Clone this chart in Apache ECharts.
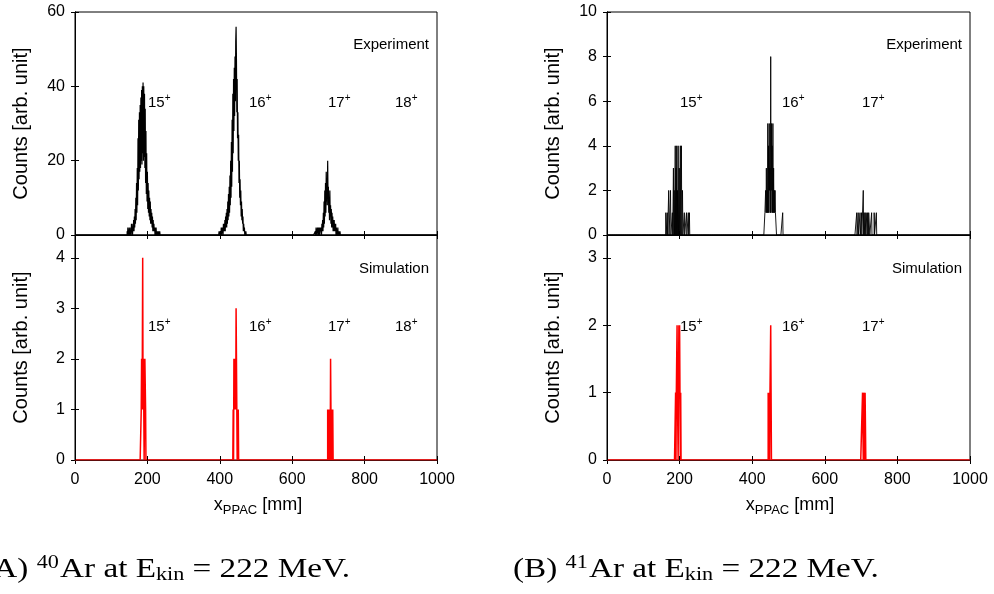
<!DOCTYPE html>
<html><head><meta charset="utf-8">
<script src="https://cdn.jsdelivr.net/npm/echarts@6/dist/echarts.min.js"></script>
<style>html,body{margin:0;padding:0;background:#fff}#c{width:994px;height:594px}</style>
</head><body><div id="c"></div>
<script>
// ---------- data ----------
const xTickValues = [0, 200, 400, 600, 800, 1000];
const chargeLabelsA = ['15', '16', '17', '18'];
const chargeLabelsB = ['15', '16', '17'];
const panelTitles = ['Experiment', 'Simulation'];
const yAxisTitle = 'Counts [arb. unit]';

// bin width [mm]
const binWidth = 1;

// (A) 40Ar experiment (counts per 1 mm bin, starting at 'start')
const expA15 = {start: 144, counts: [
  1,0,2,0,1,0,2,0,1,0, 2,0,3,1,2,0,3,1,4,1,
  5,2,7,3,10,4,14,6,18,8, 26,12,31,15,33,17,35,18,37,20,
  39,19,40,22,41,20,40,21,38,18, 34,14,28,11,22,9,17,7,14,6,
  12,5,10,4,9,3,7,3,6,2, 5,1,4,1,3,1,2,0,2,0,
  2,0,1,0,1,0,1,0,1,0,1,0]};
const expA16 = {start: 398, counts: [
  1,0,1,0,1,0,2,0,2,1, 2,0,3,1,3,1,4,1,5,2,
  6,2,7,3,9,4,11,5,13,6, 16,8,20,10,25,13,31,17,38,22,
  42,28,45,32,48,36,52,56,47,33, 42,26,33,20,27,14,20,10,15,8,
  12,5,9,4,7,3,5,1,3,1, 2,0,1,0,1]};
const expA17 = {start: 664, counts: [
  1,0,2,1,1,0,2,1,2,0, 1,2,0,2,1,2,1,0,3,1,
  4,1,6,2,9,3,12,5,14,6, 17,9,15,8,20,10,13,6,10,4,
  12,5,8,3,7,2,6,2,5,1, 4,1,4,1,3,1,3,0,2,0,
  1,0,2,0,1,0,1,0,1]};
// (A) 40Ar simulation
const simA15 = {start: 183, counts: [1,2,1,2,4,1,2,1,0,0,2,2,1]};
const simA16 = {start: 437, counts: [1,0,2,1,2,1,2,1,3,2,1,0,1,0,1]};
const simA17 = {start: 698, counts: [1,0,1,1,0,1,1,0,2,1,0,1,1,0,1]};
// (B) 41Ar experiment: [position mm, counts]
const expB15 = [[162,1],[166,1],[170,2],[175,2],[180,1],[183,3],[185,2],[188,4],[190,3],[192,4],[194,2],[196,4],[199,3],[202,4],[205,4],[208,2],[213,1],[219,1],[224,1],[227,1]];
const expB16 = {start: 435, counts: [1,1,2,1,3,1,2,1,5,1,4,1,5,2,3,1,8,1,5,2,4,1,5,1,3,1,2,1,2,1,1,1,0,0,0,0,0,0,0,0,0,0,0,0,0,0,0,0,0,1]};
const expB17 = [[688,1],[692,1],[697,1],[701,1],[706,2],[708,1],[709,1],[711,1],[712,1],[714,1],[715,1],[716,1],[718,1],[719,1],[721,1],[722,1],[723,1],[729,1],[736,1],[742,1]];
// (B) 41Ar simulation
const simB15 = {start: 189, counts: [1,0,1,1,2,1,1,0,1,2,1,2,1,0,1]};
const simB16 = {start: 444, counts: [1,0,1,1,0,1,1,2,1]};
const simB17 = {start: 704, counts: [1,1,0,1,1,1,0,1,1]};

// ---------- build histogram tables ----------
function buildHist(peaks, pairs, w) {
  const m = new Map();
  peaks.forEach(p => p.counts.forEach((c, i) => m.set(p.start + i * w, c)));
  pairs.forEach(pr => m.set(pr[0], pr[1]));
  const out = [];
  for (let x = 0; x <= 1000; x += w) out.push([x, m.get(x) || 0]);
  return out;
}
const histExpA = buildHist([expA15, expA16, expA17], [], binWidth);
const histSimA = buildHist([simA15, simA16, simA17], [], binWidth);
const histExpB = buildHist([expB16], expB15.concat(expB17), binWidth);
const histSimB = buildHist([simB15, simB16, simB17], [], binWidth);

// ---------- layout ----------
const FONT = 'Liberation Sans, Arial, sans-serif';
const SERIF = 'Liberation Serif, Times New Roman, serif';
const grids = [
  {left: 75, top: 12, width: 362, height: 223},
  {left: 75, top: 235, width: 362, height: 225},
  {left: 607, top: 12, width: 363, height: 223},
  {left: 607, top: 235, width: 363, height: 225}
];
const yCfg = [
  {max: 60, interval: 20},
  {max: 4.45, interval: 1},
  {max: 10, interval: 2},
  {max: 3.34, interval: 1}
];

const xAxes = [], yAxes = [];
grids.forEach((g, i) => {
  const isBottom = (i % 2 === 1);
  xAxes.push({
    type: 'value', gridIndex: i, min: 0, max: 1000, interval: 200, position: 'bottom',
    z: isBottom ? 5 : 0,
    axisLine: {show: true, lineStyle: {color: isBottom ? '#5e0c0c' : '#000', width: 1}},
    axisTick: {show: true, inside: true, length: 4, lineStyle: {color: '#000'}},
    axisLabel: {show: isBottom, fontFamily: FONT, fontSize: 16, color: '#000', margin: 12,
      formatter: v => xTickValues.indexOf(v) >= 0 ? String(v) : ''},
    splitLine: {show: false}
  });
});
grids.forEach((g, i) => {
  xAxes.push({
    type: 'value', gridIndex: i, min: 0, max: 1000, interval: 200, position: 'top',
    axisLine: {show: false},
    axisTick: {show: true, inside: true, length: 4, lineStyle: {color: '#000'}},
    axisLabel: {show: false}, splitLine: {show: false}
  });
});
grids.forEach((g, i) => {
  yAxes.push({
    type: 'value', gridIndex: i, min: 0, max: yCfg[i].max, interval: yCfg[i].interval, position: 'left',
    name: yAxisTitle, nameLocation: 'middle', nameRotate: 90, nameGap: 44,
    nameTextStyle: {fontFamily: FONT, fontSize: 20, color: '#000'},
    axisLine: {show: true, lineStyle: {color: '#000'}},
    axisTick: {show: true, inside: true, length: 4, lineStyle: {color: '#000'}},
    axisLabel: {fontFamily: FONT, fontSize: 16, color: '#000', margin: 10, showMaxLabel: (i % 2 === 0)},
    splitLine: {show: false}
  });
});
grids.forEach((g, i) => {
  yAxes.push({
    type: 'value', gridIndex: i, min: 0, max: yCfg[i].max, interval: yCfg[i].interval, position: 'right',
    axisLine: {show: true, lineStyle: {color: '#000'}},
    axisTick: {show: true, inside: true, length: 4, lineStyle: {color: '#000'}},
    axisLabel: {show: false}, splitLine: {show: false}
  });
});

function histSeries(data, idx, color, width) {
  return {
    type: 'line', xAxisIndex: idx, yAxisIndex: idx, data: data, step: 'end',
    showSymbol: false, symbol: 'none', silent: true, z: 2,
    lineStyle: {color: color, width: width}
  };
}

// ---------- annotations ----------
const graphics = [];
function txt(x, y, text, opts, extra) {
  graphics.push(Object.assign({type: 'text', x: x, y: y, silent: true,
    style: Object.assign({text: text, fontFamily: FONT, fontSize: 15, fill: '#000',
      textAlign: 'left', textVerticalAlign: 'middle'}, opts || {})}, extra || {}));
}
const chargeRich = {n: {fontFamily: FONT, fontSize: 15}, s: {fontFamily: FONT, fontSize: 10, padding: [0, 0, 10, 0]}};
function charge(x, y, label) {
  txt(x, y, '{n|' + label + '}{s|+}', {rich: chargeRich});
}
// panel A
txt(429, 45, panelTitles[0], {textAlign: 'right'});
txt(429, 269, panelTitles[1], {textAlign: 'right'});
[148, 249, 328, 395].forEach((x, k) => { charge(x, 103, chargeLabelsA[k]); charge(x, 327, chargeLabelsA[k]); });
// panel B
txt(962, 45, panelTitles[0], {textAlign: 'right'});
txt(962, 269, panelTitles[1], {textAlign: 'right'});
[680, 782, 862].forEach((x, k) => { charge(x, 103, chargeLabelsB[k]); charge(x, 327, chargeLabelsB[k]); });

// x-axis titles
const xTitleRich = {n: {fontFamily: FONT, fontSize: 18}, s: {fontFamily: FONT, fontSize: 13, padding: [10, 0, 0, 0]}};
txt(258, 505, '{n|x}{s|PPAC}{n| [mm]}', {rich: xTitleRich, textAlign: 'center'});
txt(790, 505, '{n|x}{s|PPAC}{n| [mm]}', {rich: xTitleRich, textAlign: 'center'});

// captions
const capRich = {
  n: {fontFamily: SERIF, fontSize: 27},
  sup: {fontFamily: SERIF, fontSize: 18, padding: [0, 1, 13, 0]},
  sub: {fontFamily: SERIF, fontSize: 18, padding: [11, 0, 0, 0]}
};
txt(350, 570, '{n|(A) }{sup|40}{n|Ar at E}{sub|kin}{n| = 222 MeV.}', {rich: capRich, textAlign: 'right'}, {scaleX: 1.23});
txt(513, 570, '{n|(B) }{sup|41}{n|Ar at E}{sub|kin}{n| = 222 MeV.}', {rich: capRich, textAlign: 'left'}, {scaleX: 1.23});

const chart = echarts.init(document.getElementById('c'), null, {renderer: 'canvas'});
chart.setOption({
  animation: false,
  backgroundColor: '#fff',
  grid: grids.map(g => Object.assign({show: true, borderColor: '#000', borderWidth: 1, backgroundColor: 'transparent', containLabel: false}, g)),
  xAxis: xAxes,
  yAxis: yAxes,
  series: [
    histSeries(histExpA, 0, '#000', 1.2),
    histSeries(histSimA, 1, '#ff0000', 1.5),
    histSeries(histExpB, 2, '#000', 0.9),
    histSeries(histSimB, 3, '#ff0000', 1.5)
  ],
  graphic: graphics
});
</script>
</body></html>
